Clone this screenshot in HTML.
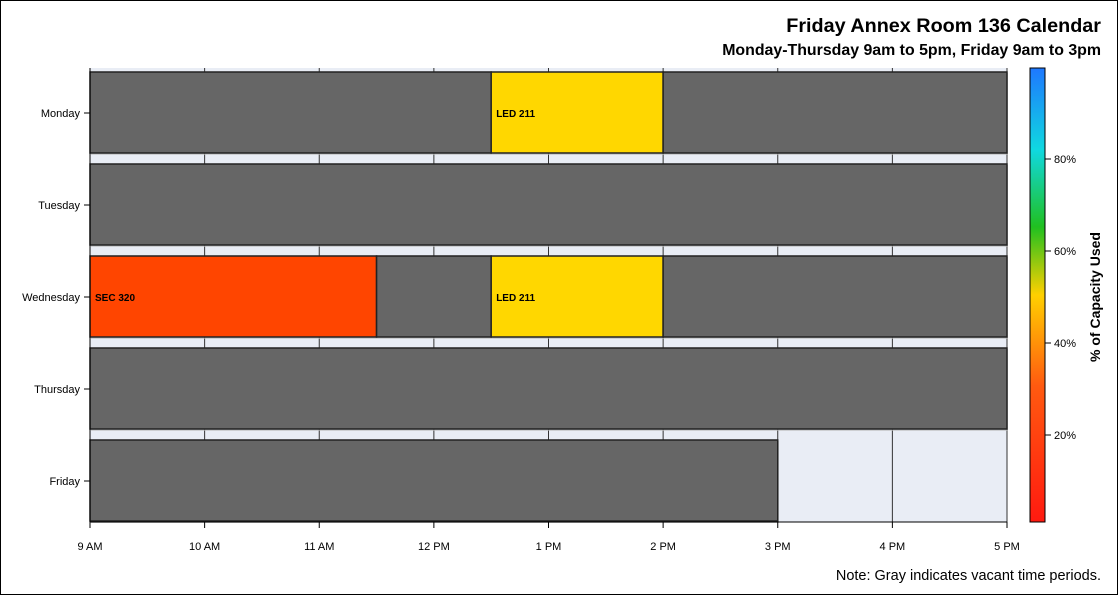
<!DOCTYPE html>
<html><head><meta charset="utf-8"><style>
body{margin:0;background:#fff}
svg{display:block;font-family:"Liberation Sans",sans-serif}
</style></head><body>
<svg id="c" width="1118" height="595">
<defs>
<linearGradient id="cg" x1="0" y1="1" x2="0" y2="0">
<stop offset="0" stop-color="#ff1a10"/><stop offset="0.3" stop-color="#ff5a10"/>
<stop offset="0.5" stop-color="#ffd000"/><stop offset="0.65" stop-color="#20c020"/>
<stop offset="0.82" stop-color="#10d8e0"/><stop offset="1" stop-color="#1e78ff"/>
</linearGradient>
</defs>
<rect x="0.5" y="0.5" width="1117" height="594" fill="#fff" stroke="#000"/>
<text x="1101" y="32" text-anchor="end" font-size="19.8" font-weight="bold">Friday Annex Room 136 Calendar</text>
<text x="1101" y="55" text-anchor="end" font-size="15.9" font-weight="bold">Monday-Thursday 9am to 5pm, Friday 9am to 3pm</text>
<rect x="90" y="68" width="917" height="454" fill="#e9edf5"/>
<g id="grid"></g><g id="bars"></g><g id="axes"></g>
<rect x="1030" y="68" width="15" height="454" fill="url(#cg)" stroke="#000" stroke-width="1"/>
<g id="cticks"></g>
<text transform="translate(1100,297) rotate(-90)" text-anchor="middle" font-size="14" font-weight="bold">% of Capacity Used</text>
<text x="1101" y="580" text-anchor="end" font-size="14.5">Note: Gray indicates vacant time periods.</text>
</svg>
<script>
const days=["Monday","Tuesday","Wednesday","Thursday","Friday"];
const hourLabels=["9 AM","10 AM","11 AM","12 PM","1 PM","2 PM","3 PM","4 PM","5 PM"];
const segDay=[0,0,0,1,2,2,2,2,3,4];
const segStart=[9,12.5,14,9,9,11.5,12.5,14,9,9];
const segEnd=[12.5,14,17,17,11.5,12.5,14,17,17,15];
const segLabel=["","LED 211","","","SEC 320","","LED 211","","",""];
const segColor=["#666666","#ffd700","#666666","#666666","#ff4500","#666666","#ffd700","#666666","#666666","#666666"];
const cTicks=[20,40,60,80];
const NS="http://www.w3.org/2000/svg";
const X=h=>90+(h-9)*(917/8);
const Y=i=>113+i*92;
const CY=p=>527-p*4.6;
function mk(t,a,p){const e=document.createElementNS(NS,t);for(const k in a)e.setAttribute(k,a[k]);p.appendChild(e);return e;}
const g=document.getElementById('grid'),b=document.getElementById('bars'),ax=document.getElementById('axes'),ct=document.getElementById('cticks');
hourLabels.forEach((l,i)=>{
 const x=X(9+i);
 const gl=mk('line',{x1:x,x2:x,y1:68,y2:522,stroke:'#333','stroke-width':1},g);
 
 
 mk('line',{x1:x,x2:x,y1:522,y2:528,stroke:'#000'},ax);
 const t=mk('text',{x:x,y:550,'text-anchor':'middle','font-size':11},ax);t.textContent=l;
 
 
});
segDay.forEach((d,i)=>{
 const x1=X(segStart[i]),x2=X(segEnd[i]),y=Y(d);
 mk('rect',{x:x1+1,y:y-40,width:x2-x1,height:82,fill:'#bbb',opacity:0.6},b);
 const r=mk('rect',{x:x1,y:y-41,width:x2-x1,height:81,fill:segColor[i],stroke:'#222','stroke-width':1.5},b);
 
 
 if(segLabel[i]){const t=mk('text',{x:x1+5,y:y+4,'font-size':10,'font-weight':'bold'},b);t.textContent=segLabel[i];
 
 }
});
days.forEach((d,i)=>{
 const y=Y(i);
 mk('line',{x1:84,x2:90,y1:y,y2:y,stroke:'#000'},ax);
 const t=mk('text',{x:80,y:y+4,'text-anchor':'end','font-size':11},ax);t.textContent=d;
 
 
});
mk('line',{x1:90,x2:1007,y1:522,y2:522,stroke:'#000'},ax);
mk('line',{x1:90,x2:90,y1:68,y2:522,stroke:'#000'},ax);
cTicks.forEach(p=>{
 const y=CY(p);
 mk('line',{x1:1045,x2:1051,y1:y,y2:y,stroke:'#000'},ct);
 const t=mk('text',{x:1054,y:y+4,'font-size':11},ct);t.textContent=p+'%';
 
 
});
</script>
</body></html>
